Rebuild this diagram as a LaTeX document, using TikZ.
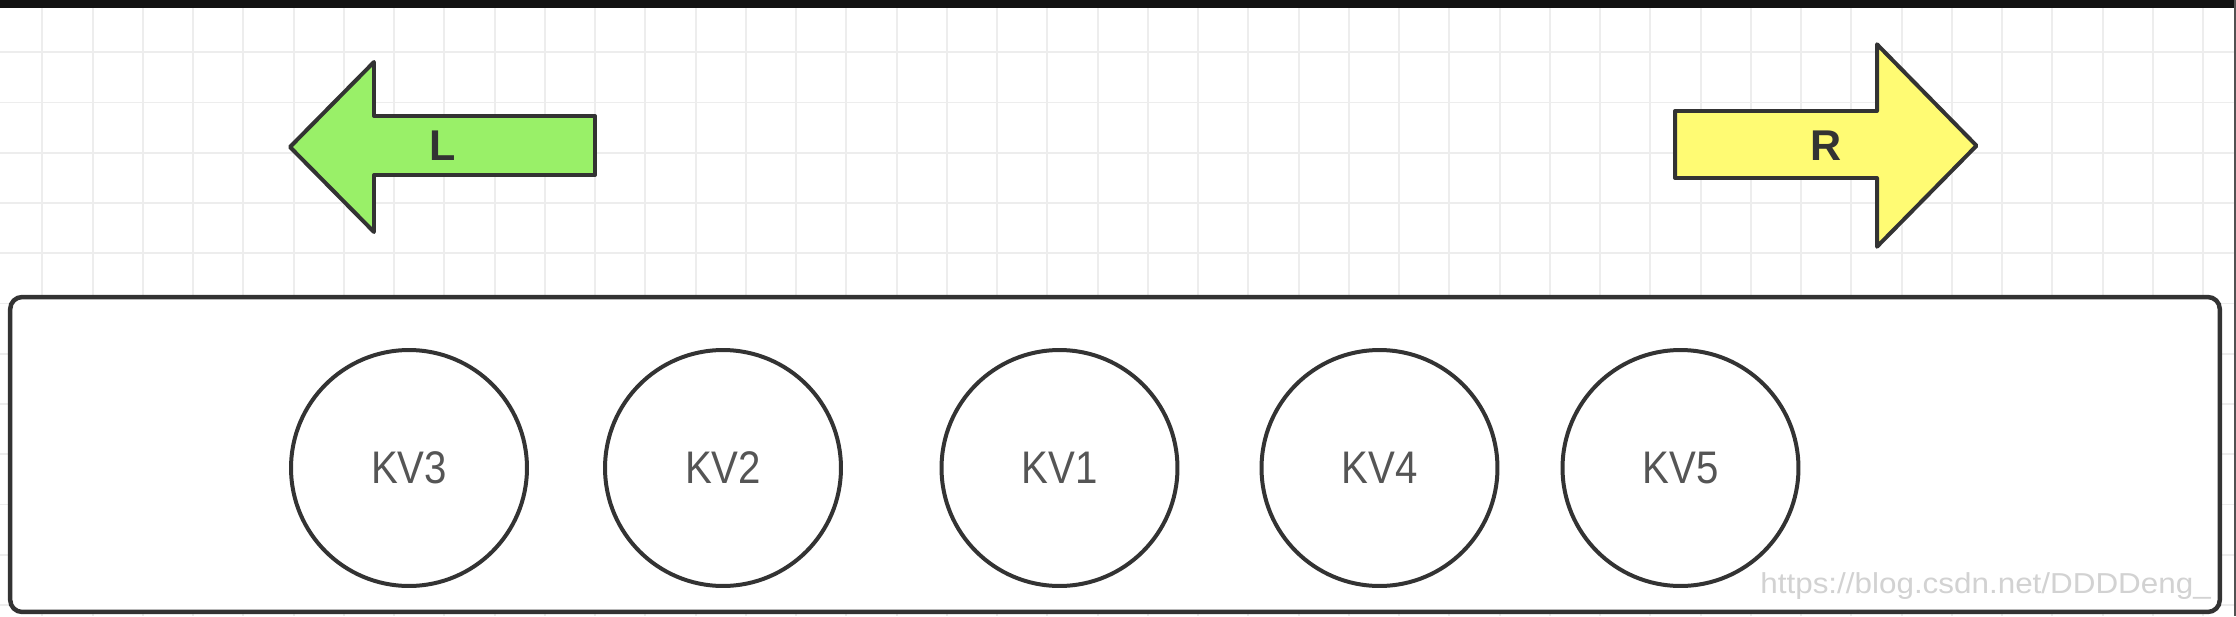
\documentclass[tikz,border=0pt]{standalone}
\usepackage{fontspec}
\usepackage{graphicx}
\setmainfont{Liberation Sans}
\definecolor{gridc}{HTML}{EDEDED}
\definecolor{edge}{HTML}{333333}
\definecolor{lgreen}{HTML}{99F068}
\definecolor{lyellow}{HTML}{FFFB73}
\definecolor{kvtext}{HTML}{555555}
\definecolor{wmc}{HTML}{D2D2D2}
\begin{document}
\begin{tikzpicture}[x=0.02cm,y=-0.02cm,
  gridline/.style={draw=gridc, line width=1.1pt},
  frame/.style={draw=edge, fill=white, line width=2.55pt, rounded corners=6.8pt,
    minimum width=44.2cm, minimum height=6.3cm, inner sep=0pt},
  kv/.style={circle, draw=edge, line width=2.27pt, fill=white, minimum size=4.72cm,
    inner sep=0pt, text=kvtext, font=\fontsize{26}{30}\selectfont},
  dirarrow/.style={draw=edge, line width=2.27pt, line join=round},
  dirlabel/.style={font=\fontsize{24.5}{28}\selectfont\bfseries, text=edge, inner sep=0pt},
  wmark/.style={anchor=base west, inner sep=0pt, text=wmc, font=\fontsize{16.4}{18}\selectfont},
]
\useasboundingbox (0,0) rectangle (2236,616);
\fill[white] (0,0) rectangle (2236,616);
\foreach \i in {0,...,43} \draw[gridline] ({42.4+50.25*\i},8) -- ({42.4+50.25*\i},616);
\foreach \j in {1,...,12} \draw[gridline] (0,{2+50.25*\j}) -- (2236,{2+50.25*\j});
\fill[black!93] (0,0) rectangle (2236,8);
\fill[edge!85] (2233.5,0) rectangle (2236,616);

\node[frame] (box) at (1115,454.5) {};

\node[kv] (kv3) at (409,468) {\scalebox{0.88}[1]{KV3}};
\node[kv] (kv2) at (723,468) {\scalebox{0.88}[1]{KV2}};
\node[kv] (kv1) at (1059.5,468) {\scalebox{0.88}[1]{KV1}};
\node[kv] (kv4) at (1379.5,468) {\scalebox{0.88}[1]{KV4}};
\node[kv] (kv5) at (1680.5,468) {\scalebox{0.88}[1]{KV5}};

\draw[dirarrow, fill=lgreen] (290,147) -- (374,62) -- (374,116) -- (595,116) -- (595,175) -- (374,175) -- (374,232) -- cycle;
\node[dirlabel] (L) at (442.5,146) {L};

\draw[dirarrow, fill=lyellow] (1976.5,145.7) -- (1877,44.3) -- (1877,111) -- (1675,111) -- (1675,178) -- (1877,178) -- (1877,246.7) -- cycle;
\node[dirlabel] (R) at (1826,146) {R};

\node[wmark] (wm) at (1760,593) {\scalebox{1.09}[1]{https://blog.csdn.net/DDDDeng\_}};
\end{tikzpicture}
\end{document}
